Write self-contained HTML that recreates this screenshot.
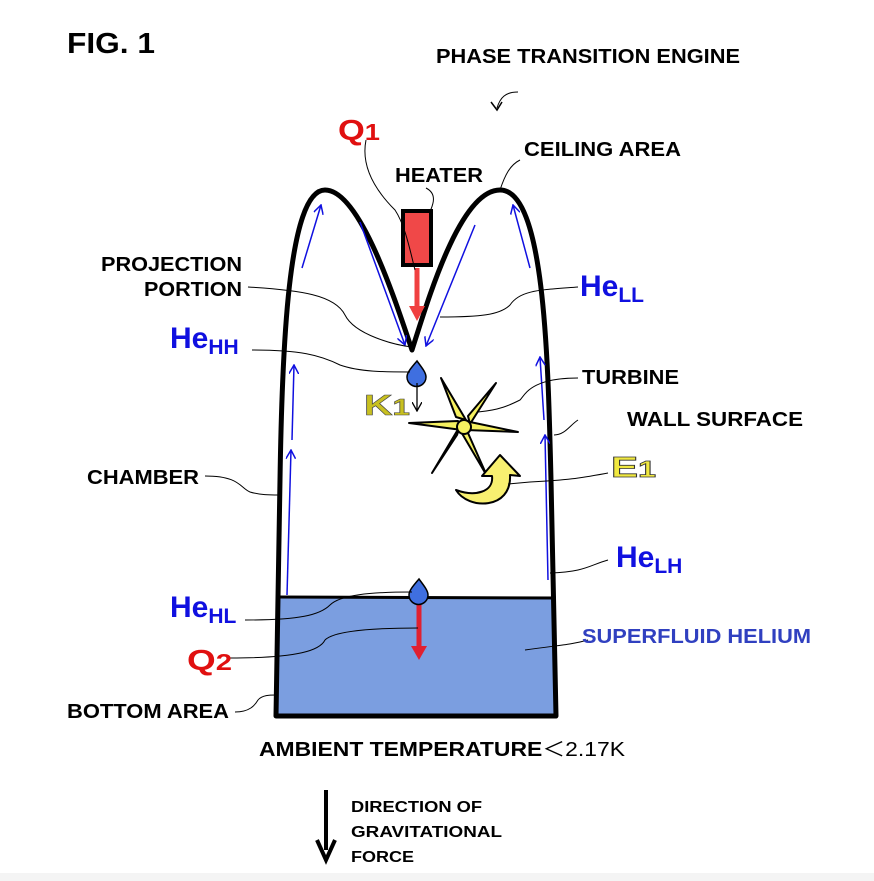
<!DOCTYPE html>
<html><head><meta charset="utf-8"><style>
html,body{margin:0;padding:0;background:#fff;}
svg{display:block;}
text{font-family:"Liberation Sans",Arial,sans-serif;font-weight:bold;}
</style></head><body>
<svg width="874" height="881" viewBox="0 0 874 881" xmlns="http://www.w3.org/2000/svg">
<defs>
<marker id="ba" markerWidth="10" markerHeight="10" refX="9" refY="5" orient="auto" markerUnits="userSpaceOnUse"><path d="M0,0 L9,5 L0,10" fill="none" stroke="#1010e0" stroke-width="1.5"/></marker>
<marker id="ka" markerWidth="10" markerHeight="10" refX="9" refY="5" orient="auto" markerUnits="userSpaceOnUse"><path d="M0,0 L9,5 L0,10" fill="none" stroke="#000" stroke-width="1.3"/></marker>
</defs>
<rect x="0" y="0" width="874" height="881" fill="#fff"/>
<rect x="277" y="597" width="279" height="118" fill="#7b9ee0"/>
<line x1="277" y1="597" x2="556" y2="598" stroke="#000" stroke-width="3"/>
<path d="M276,716 L280,480 C282,350 288,190 325,190 C360,190 395,300 412,350 C428,300 460,190 500,190 C545,190 548,360 551,480 L556,716 Z" fill="none" stroke="#000" stroke-width="5" stroke-linejoin="round"/>
<g stroke="#1010e0" stroke-width="1.5" fill="none" marker-end="url(#ba)">
<line x1="287" y1="595" x2="291" y2="450"/>
<line x1="292" y1="440" x2="294" y2="365"/>
<line x1="548" y1="580" x2="545" y2="435"/>
<line x1="544" y1="420" x2="540" y2="357"/>
<line x1="302" y1="268" x2="321" y2="205"/>
<line x1="360" y1="222" x2="405" y2="345"/>
<line x1="475" y1="225" x2="426" y2="346"/>
<line x1="530" y1="268" x2="513" y2="205"/>
</g>
<rect x="403" y="211" width="28" height="54" fill="#f04848" stroke="#000" stroke-width="4"/>
<line x1="417" y1="268" x2="417" y2="308" stroke="#f04040" stroke-width="5"/>
<path d="M409,306 L425,306 L417,321 Z" fill="#f04040"/>
<line x1="419" y1="604" x2="419" y2="648" stroke="#e02030" stroke-width="5"/>
<path d="M411,646 L427,646 L419,660 Z" fill="#e02030"/>
<path d="M417,361 C410,369 407,373 407,377 A9,9 0 0 0 426,377 C426,373 423,369 417,361 Z" fill="#3f6fe0" stroke="#000" stroke-width="1.5"/>
<path d="M419,579 C412,587 409,591 409,595 A9,9 0 0 0 428,595 C428,591 425,587 419,579 Z" fill="#3f6fe0" stroke="#000" stroke-width="1.5"/>
<line x1="417" y1="383" x2="417" y2="411" stroke="#000" stroke-width="1.3" marker-end="url(#ka)"/>
<g stroke="#000" stroke-width="2" fill="#f5f060" stroke-linejoin="round">
<path d="M441,378 L456,417 L466,420 Z"/>
<path d="M496,383 L468,416 L470,424 Z"/>
<path d="M518,432 L470,422 L466,430 Z"/>
<path d="M487,476 L468,433 L460,430 Z"/>
<path d="M432,473 L457,435 L460,426 Z"/>
<path d="M409,423 L458,421 L462,430 Z"/>
<circle cx="464" cy="427" r="7"/>
</g>
<path d="M456,490 C468,510 512,510 510,475 L520,476 L500,455 L482,476 L492,476 C494,492 475,497 456,490 Z" fill="#f8f070" stroke="#000" stroke-width="2" stroke-linejoin="round"/>
<g stroke="#000" stroke-width="1" fill="none">
<path d="M366,140 C360,170 380,195 395,210 C405,225 410,250 415,270"/>
<path d="M426,188 C440,195 430,210 430,212"/>
<path d="M520,160 C510,165 505,175 500,190"/>
<path d="M248,287 C300,290 335,295 345,315 C355,335 395,345 412,347"/>
<path d="M578,287 C540,290 520,290 510,305 C500,315 480,317 440,317"/>
<path d="M252,350 C300,350 320,355 340,365 C360,372 385,372 410,372"/>
<path d="M578,378 C530,378 525,395 520,400 C510,405 500,410 478,412"/>
<path d="M578,420 C570,425 565,435 554,435"/>
<path d="M205,476 C240,476 240,488 250,492 C260,495 270,495 279,495"/>
<path d="M608,473 C580,478 570,480 530,482 L508,484"/>
<path d="M608,560 C590,565 585,572 550,573"/>
<path d="M245,620 C300,620 320,615 330,605 C340,595 370,592 412,592"/>
<path d="M230,658 C300,658 320,650 325,640 C335,630 380,628 418,628"/>
<path d="M588,640 C570,645 560,645 525,650"/>
<path d="M235,712 C250,712 255,705 258,700 C262,695 270,695 276,695"/>
<path d="M518,92 C505,92 500,98 497,108"/>
</g>
<path d="M491,102 L497,110 L502,102" fill="none" stroke="#000" stroke-width="1.5"/>
<text x="67" y="53" font-size="29" textLength="88" lengthAdjust="spacingAndGlyphs">FIG. 1</text>
<text x="436" y="63" font-size="20" textLength="304" lengthAdjust="spacingAndGlyphs">PHASE TRANSITION ENGINE</text>
<text x="338" y="140" font-size="29" fill="#e01010" textLength="42" lengthAdjust="spacingAndGlyphs">Q<tspan font-size="23">1</tspan></text>
<text x="395" y="182" font-size="20" textLength="88" lengthAdjust="spacingAndGlyphs">HEATER</text>
<text x="524" y="156" font-size="20" textLength="157" lengthAdjust="spacingAndGlyphs">CEILING AREA</text>
<text x="101" y="271" font-size="20" textLength="141" lengthAdjust="spacingAndGlyphs">PROJECTION</text>
<text x="144" y="296" font-size="20" textLength="98" lengthAdjust="spacingAndGlyphs">PORTION</text>
<text x="580" y="296" font-size="30" fill="#1010e0">He<tspan font-size="21" dy="6">LL</tspan></text>
<text x="170" y="348" font-size="30" fill="#1010e0">He<tspan font-size="21" dy="6">HH</tspan></text>
<text x="582" y="384" font-size="20" textLength="97" lengthAdjust="spacingAndGlyphs">TURBINE</text>
<text x="364" y="415" font-size="29" fill="#c8c020" stroke="#444" stroke-width="0.6" textLength="46" lengthAdjust="spacingAndGlyphs">K<tspan font-size="23">1</tspan></text>
<text x="627" y="426" font-size="20" textLength="176" lengthAdjust="spacingAndGlyphs">WALL SURFACE</text>
<text x="87" y="484" font-size="20" textLength="112" lengthAdjust="spacingAndGlyphs">CHAMBER</text>
<text x="611" y="477" font-size="29" fill="#f0e840" stroke="#333" stroke-width="0.8" textLength="45" lengthAdjust="spacingAndGlyphs">E<tspan font-size="23">1</tspan></text>
<text x="616" y="567" font-size="30" fill="#1010e0">He<tspan font-size="21" dy="6">LH</tspan></text>
<text x="170" y="617" font-size="30" fill="#1010e0">He<tspan font-size="21" dy="6">HL</tspan></text>
<text x="582" y="643" font-size="20" fill="#3040c0" textLength="229" lengthAdjust="spacingAndGlyphs">SUPERFLUID HELIUM</text>
<text x="187" y="670" font-size="29" fill="#e01010" textLength="45" lengthAdjust="spacingAndGlyphs">Q<tspan font-size="23">2</tspan></text>
<text x="67" y="718" font-size="20" textLength="162" lengthAdjust="spacingAndGlyphs">BOTTOM AREA</text>
<text x="259" y="756" font-size="20" textLength="366" lengthAdjust="spacingAndGlyphs">AMBIENT TEMPERATURE<tspan font-weight="normal">＜2.17K</tspan></text>
<line x1="326" y1="790" x2="326" y2="850" stroke="#000" stroke-width="4"/>
<path d="M317,840 L326,860 L335,840" fill="none" stroke="#000" stroke-width="4"/>
<text x="351" y="812" font-size="16" textLength="131" lengthAdjust="spacingAndGlyphs">DIRECTION OF</text>
<text x="351" y="837" font-size="16" textLength="151" lengthAdjust="spacingAndGlyphs">GRAVITATIONAL</text>
<text x="351" y="862" font-size="16" textLength="63" lengthAdjust="spacingAndGlyphs">FORCE</text>
<rect x="0" y="873" width="874" height="8" fill="#f4f4f4"/>
</svg>
</body></html>
